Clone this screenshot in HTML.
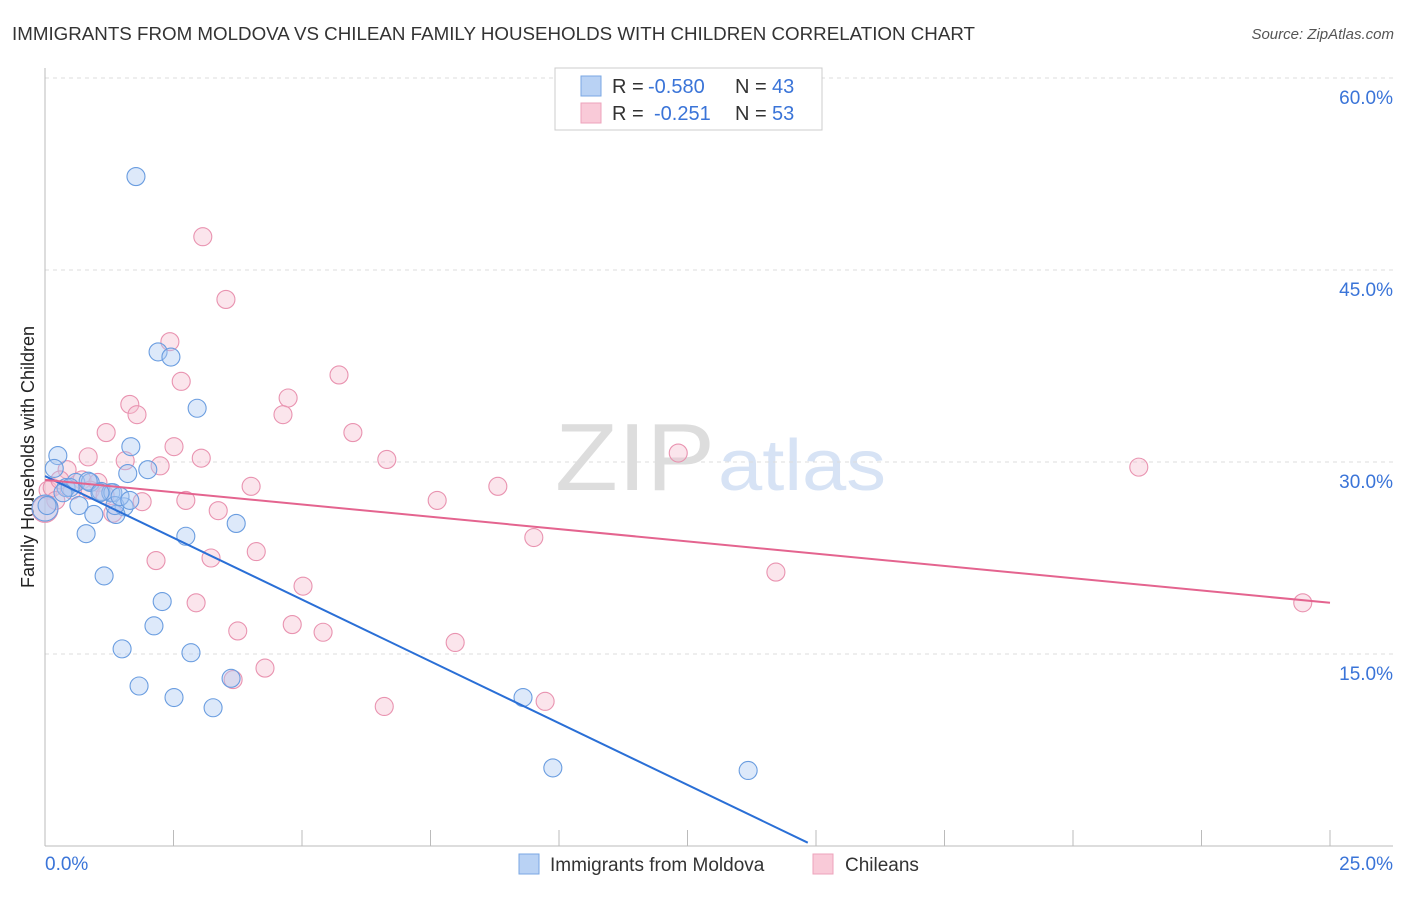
<!DOCTYPE html>
<html><head><meta charset="utf-8"><style>
body{margin:0;background:#fff;font-family:"Liberation Sans",sans-serif}
svg text{font-family:"Liberation Sans",sans-serif}
</style></head><body>
<svg id="c" width="1406" height="892">
<text x="12" y="40" font-size="18" fill="#333" textLength="963" lengthAdjust="spacingAndGlyphs">IMMIGRANTS FROM MOLDOVA VS CHILEAN FAMILY HOUSEHOLDS WITH CHILDREN CORRELATION CHART</text>
<text x="1394" y="39" font-size="15" fill="#555" font-style="italic" text-anchor="end">Source: ZipAtlas.com</text>
<text x="34" y="457" font-size="18" fill="#222" text-anchor="middle" transform="rotate(-90 34 457)">Family Households with Children</text>
<text x="555" y="490" font-size="96" fill="#ddd" textLength="160" lengthAdjust="spacingAndGlyphs" font-family="Liberation Serif">ZIP</text>
<text x="718" y="490" font-size="72" fill="#d7e3f5" textLength="168" lengthAdjust="spacingAndGlyphs">atlas</text>
<g id="grid"></g><g id="marks"></g>
<g>
<rect x="555" y="68" width="267" height="62" fill="#fff" stroke="#ccc"/>
<rect x="581" y="76" width="20" height="20" fill="#b9d2f4" stroke="#7aa7e3"/>
<rect x="581" y="103" width="20" height="20" fill="#f9cad8" stroke="#eda3bb"/>
<text x="612" y="93" font-size="20" fill="#333">R =</text>
<text x="648" y="93" font-size="20" fill="#3a74d8">-0.580</text>
<text x="735" y="93" font-size="20" fill="#333">N =</text>
<text x="772" y="93" font-size="20" fill="#3a74d8">43</text>
<text x="612" y="120" font-size="20" fill="#333">R =</text>
<text x="654" y="120" font-size="20" fill="#3a74d8">-0.251</text>
<text x="735" y="120" font-size="20" fill="#333">N =</text>
<text x="772" y="120" font-size="20" fill="#3a74d8">53</text>
</g>
<g>
<rect x="519" y="854" width="20" height="20" fill="#b9d2f4" stroke="#7aa7e3"/>
<text x="550" y="871" font-size="19" fill="#333">Immigrants from Moldova</text>
<rect x="813" y="854" width="20" height="20" fill="#f9cad8" stroke="#eda3bb"/>
<text x="845" y="871" font-size="19" fill="#333">Chileans</text>
</g>
</svg>
<script>
const yTicks=[15,30,45,60];
const yTickLabels=["15.0%","30.0%","45.0%","60.0%"];
const xTickVals=[2.5,5,7.5,10,12.5,15,17.5,20,22.5,25];
const blueX=[1.77,2.20,2.45,2.96,1.67,0.25,0.18,2.00,1.61,0.41,0.60,0.88,1.09,1.28,0.84,1.32,0.66,0.95,1.54,1.38,1.36,3.72,0.80,2.74,1.15,2.28,2.12,2.84,1.50,3.62,1.83,2.51,3.27,9.30,9.88,13.68,0.00,0.04,0.49,1.07,1.46,1.65,0.35];
const blueY=[52.3,38.6,38.2,34.2,31.2,30.5,29.5,29.4,29.1,28.0,28.4,28.4,27.7,27.6,28.5,27.6,26.6,25.9,26.5,25.9,26.6,25.2,24.4,24.2,21.1,19.1,17.2,15.1,15.4,13.1,12.5,11.6,10.8,11.6,6.1,5.9,26.4,26.6,28.0,27.6,27.3,27.0,27.6];
const pinkX=[3.07,3.52,2.43,2.65,5.72,1.65,4.73,1.79,4.63,1.19,5.99,2.51,0.84,3.04,6.65,1.56,2.24,0.43,12.32,21.28,4.01,8.81,2.74,1.89,7.63,3.37,1.32,9.51,4.11,2.16,3.23,14.22,5.02,2.94,4.81,3.75,5.41,7.98,4.28,3.66,6.60,9.73,24.47,0.06,0.14,0.29,0.72,1.03,0.53,0.21,0.00,0.88,1.17];
const pinkY=[47.6,42.7,39.4,36.3,36.8,34.5,35.0,33.7,33.7,32.3,32.3,31.2,30.4,30.3,30.2,30.1,29.7,29.4,30.7,29.6,28.1,28.1,27.0,26.9,27.0,26.2,26.0,24.1,23.0,22.3,22.5,21.4,20.3,19.0,17.3,16.8,16.7,15.9,13.9,13.0,10.9,11.3,19.0,27.8,28.0,28.6,28.6,28.4,27.8,27.0,26.3,27.8,27.4];
const blueTrend=[28.9,-1.93,14.84];
const pinkTrend=[28.6,-0.384,25];
const X=v=>45+v*51.4, Y=v=>846-v*12.8;
const NS="http://www.w3.org/2000/svg";
function mk(t,a,p){const e=document.createElementNS(NS,t);for(const k in a)e.setAttribute(k,a[k]);p.appendChild(e);return e;}
const g=document.getElementById('grid'), m=document.getElementById('marks');
yTicks.forEach((v,i)=>{
 const l=mk('line',{x1:45,x2:1393,y1:Y(v),y2:Y(v),stroke:'#ddd','stroke-dasharray':'4 4'},g);
 
 
 const t=mk('text',{x:1393,y:Y(v)+26,'font-size':19,fill:'#3a74d8','text-anchor':'end'},g);
 t.textContent=yTickLabels[i];
 
 
});
mk('line',{x1:45,x2:45,y1:68,y2:846,stroke:'#bbb'},g);
mk('line',{x1:45,x2:1393,y1:846,y2:846,stroke:'#bbb'},g);
xTickVals.forEach(v=>{const l=mk('line',{x1:X(v),x2:X(v),y1:830,y2:846,stroke:'#bbb'},g);
 
 });
const x0=mk('text',{x:45,y:870,'font-size':19,fill:'#3a74d8'},g);x0.textContent='0.0%';


const x1=mk('text',{x:1393,y:870,'font-size':19,fill:'#3a74d8','text-anchor':'end'},g);x1.textContent='25.0%';


function pts(xs,ys,fill,stroke,name){xs.forEach((x,i)=>{const r=(x===0)?13:9;const c=mk('circle',{cx:X(x),cy:Y(ys[i]),r:r,fill:fill,'fill-opacity':0.4,stroke:stroke,'stroke-width':1.1},m);
 
 });}
pts(pinkX,pinkY,'#f6bfd0','#e993b0','point-chileans');
pts(blueX,blueY,'#a9c8f2','#6a9de0','point-moldova');
const bl=mk('line',{x1:X(0),y1:Y(blueTrend[0]),x2:X(blueTrend[2]),y2:Y(blueTrend[0]+blueTrend[1]*blueTrend[2]),stroke:'#2a6fd6','stroke-width':2},m);


const pl=mk('line',{x1:X(0),y1:Y(pinkTrend[0]),x2:X(pinkTrend[2]),y2:Y(pinkTrend[0]+pinkTrend[1]*pinkTrend[2]),stroke:'#e4648f','stroke-width':2},m);


</script>
</body></html>
